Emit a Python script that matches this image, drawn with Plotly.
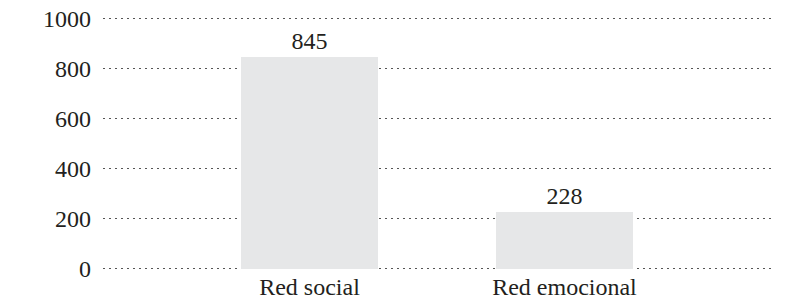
import plotly.graph_objects as go

categories = ["Red social", "Red emocional"]
values = [845, 228]
tick_vals = [0, 200, 400, 600, 800, 1000]
tick_text = ["0", "200", "400", "600", "800", "1000"]

font_family = "Liberation Serif, Times New Roman, serif"
text_color = "#231f20"
fsize = 24

fig = go.Figure(
    go.Bar(
        x=list(range(len(categories))),
        y=values,
        width=0.54,
        marker=dict(color="#e6e7e8", line=dict(width=0)),
        text=[str(v) for v in values],
        textposition="outside",
        textfont=dict(family=font_family, size=fsize, color=text_color),
        cliponaxis=False,
    )
)

fig.update_layout(
    width=789,
    height=307,
    margin=dict(l=103, r=18, t=17, b=37, autoexpand=False),
    paper_bgcolor="white",
    plot_bgcolor="white",
    showlegend=False,
    bargap=0,
    font=dict(family=font_family, size=fsize, color=text_color),
    xaxis=dict(
        range=[-0.81, 1.81],
        tickmode="array",
        tickvals=list(range(len(categories))),
        ticktext=categories,
        showgrid=False,
        zeroline=False,
        showline=False,
        ticks="",
        automargin=False,
        ticklabelstandoff=0,
        tickfont=dict(family=font_family, size=fsize, color=text_color),
    ),
    yaxis=dict(
        range=[-5, 1005],
        tickmode="array",
        tickvals=tick_vals,
        ticktext=tick_text,
        showgrid=True,
        gridcolor="#555555",
        griddash="2px,4px",
        gridwidth=1,
        zeroline=False,
        showline=False,
        ticks="",
        automargin=False,
        ticklabelstandoff=11,
        tickfont=dict(family=font_family, size=fsize, color=text_color),
        layer="below traces",
    ),
)

fig.write_html(
    "out.html",
    config={"displayModeBar": False},
    post_script="document.body.style.margin='0';",
)
